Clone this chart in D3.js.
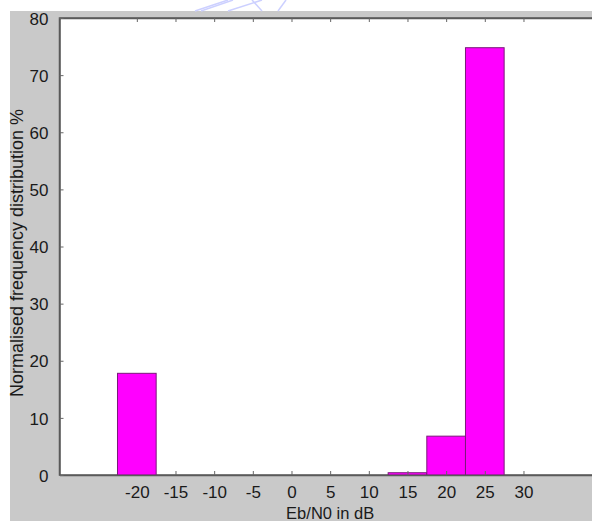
<!DOCTYPE html>
<html>
<head>
<meta charset="utf-8">
<script src="https://cdn.jsdelivr.net/npm/d3@7"></script>
<style>
  html, body { margin: 0; padding: 0; background: #fff; }
  svg { display: block; }
  text { font-family: Arial, "Liberation Sans", sans-serif; fill: #1a1a1a; }
</style>
</head>
<body>
<div id="chart"></div>
<script>
// histogram bins (centre in dB) and their share in %
const binCentres = [-20, -15, -10, -5, 0, 5, 10, 15, 20, 25];
const binValues = [17.8, 0, 0, 0, 0, 0, 0, 0.4, 6.8, 74.8];
const xTicks = [-20, -15, -10, -5, 0, 5, 10, 15, 20, 25, 30];
const yTicks = [0, 10, 20, 30, 40, 50, 60, 70, 80];
const binWidth = 5;

const width = 592, height = 521;

const svg = d3.select('#chart').append('svg')
  .attr('width', width)
  .attr('height', height);

// figure background
svg.append('rect')
  .attr('x', 10).attr('y', 11)
  .attr('width', width - 10).attr('height', height - 11)
  .attr('fill', '#c9c9c9');

// faint watermark strokes at the top
const wm = svg.append('g').attr('stroke', '#ccd0ff').attr('stroke-width', 1.5).attr('fill', 'none');
[[[195, 11], [228, 0]], [[201, 11], [233, 0]], [[228, 11], [262, 0]], [[252, 0], [262, 11]], [[286, 0], [278, 11]]]
  .forEach(l => wm.append('line').attr('x1', l[0][0]).attr('y1', l[0][1]).attr('x2', l[1][0]).attr('y2', l[1][1]));

const x = d3.scaleLinear().domain([-30, 40]).range([59.5, 600.8]);
const y = d3.scaleLinear().domain([0, 80]).range([475, 18]);

// plot area
svg.append('rect')
  .attr('x', x(-30)).attr('y', y(80))
  .attr('width', x(40) - x(-30)).attr('height', y(0) - y(80))
  .attr('fill', '#fff')
  .attr('stroke', '#5a5a5a')
  .attr('stroke-width', 1.5);

// bars
svg.append('g')
  .selectAll('rect')
  .data(binCentres.map((c, i) => ({ c: c, v: binValues[i] })).filter(d => d.v > 0))
  .enter()
  .append('rect')
  .attr('x', d => x(d.c - binWidth / 2))
  .attr('y', d => y(d.v))
  .attr('width', d => x(d.c + binWidth / 2) - x(d.c - binWidth / 2))
  .attr('height', d => y(0) - y(d.v))
  .attr('fill', '#ff00ff')
  .attr('stroke', '#7a1a7a')
  .attr('stroke-width', 1);

// axes, ticks pointing inwards
const xAxis = svg.append('g')
  .attr('transform', `translate(0,${y(0)})`)
  .call(d3.axisBottom(x).tickValues(xTicks).tickSizeInner(-4).tickSizeOuter(0).tickPadding(11).tickFormat(d => String(d)));

const xTop = svg.append('g')
  .attr('transform', `translate(0,${y(80)})`)
  .call(d3.axisTop(x).tickValues(xTicks).tickSizeInner(-4).tickSizeOuter(0).tickFormat(''));

const yAxis = svg.append('g')
  .attr('transform', `translate(${x(-30)},0)`)
  .call(d3.axisLeft(y).tickValues(yTicks).tickSizeInner(-4).tickSizeOuter(0).tickPadding(11).tickFormat(d => String(d)));

[xAxis, xTop, yAxis].forEach(g => {
  g.select('.domain').attr('stroke', '#5a5a5a').attr('stroke-width', 1.5);
  g.selectAll('.tick line').attr('stroke', '#666');
  g.selectAll('.tick text')
    .style('font-family', 'Arial, "Liberation Sans", sans-serif')
    .style('font-size', '17px')
    .attr('fill', '#1a1a1a');
});

// the -20 tick is hidden behind its bar
xAxis.selectAll('.tick').filter(d => d === -20).select('line').remove();

yAxis.selectAll('.tick text').attr('dy', '0.36em');

// axis titles
svg.append('text')
  .attr('x', (x(-30) + x(40)) / 2)
  .attr('y', 519)
  .attr('text-anchor', 'middle')
  .style('font-size', '16.5px')
  .text('Eb/N0 in dB');

svg.append('text')
  .attr('transform', `translate(23,253) rotate(-90)`)
  .attr('text-anchor', 'middle')
  .style('font-size', '18px')
  .text('Normalised frequency distribution %');
</script>
</body>
</html>
